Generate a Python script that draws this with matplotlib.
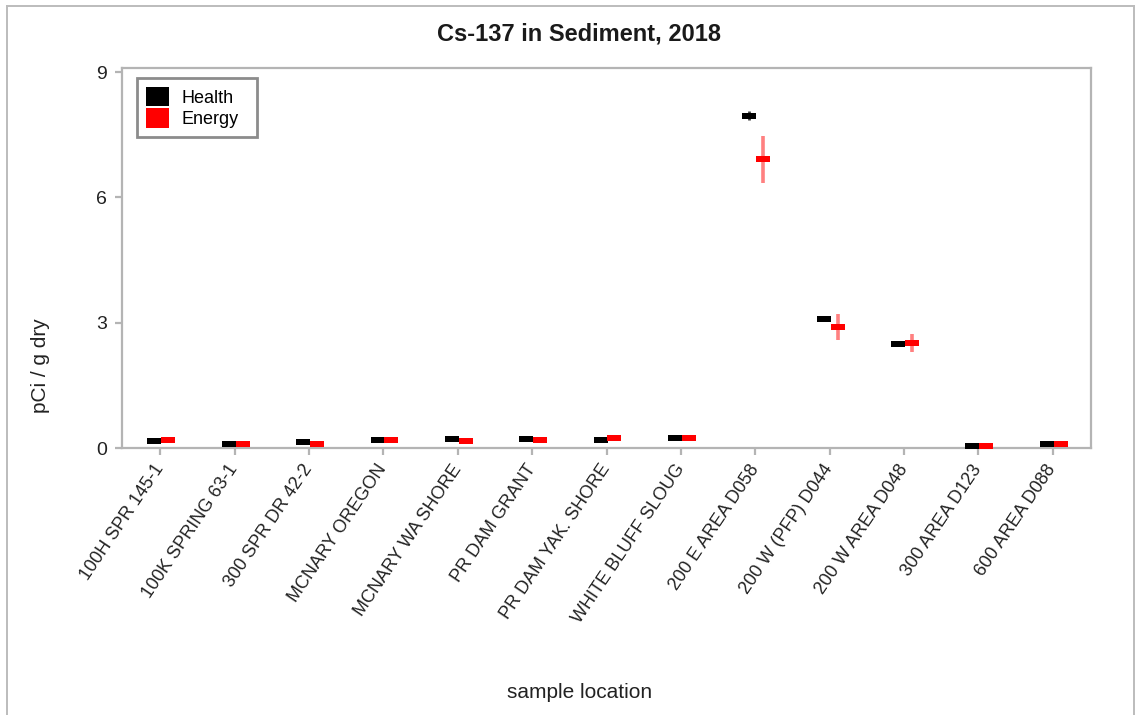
import matplotlib
matplotlib.use("Agg")
import matplotlib.pyplot as plt
from matplotlib.patches import Patch
from matplotlib.lines import Line2D
import numpy as np

plt.rcParams['font.family'] = ['Liberation Sans', 'DejaVu Sans']

locations = ["100H SPR 145-1", "100K SPRING 63-1", "300 SPR DR 42-2", "MCNARY OREGON",
             "MCNARY WA SHORE", "PR DAM GRANT", "PR DAM YAK. SHORE", "WHITE BLUFF SLOUG",
             "200 E AREA D058", "200 W (PFP) D044", "200 W AREA D048", "300 AREA D123",
             "600 AREA D088"]
health = [0.17, 0.10, 0.15, 0.20, 0.22, 0.22, 0.20, 0.25, 7.96, 3.10, 2.50, 0.05, 0.09]
health_err = [0.01, 0.01, 0.01, 0.01, 0.01, 0.01, 0.01, 0.01, 0.11, 0.02, 0.03, 0.01, 0.01]
energy = [0.20, 0.10, 0.10, 0.20, 0.17, 0.20, 0.25, 0.25, 6.91, 2.89, 2.52, 0.05, 0.09]
energy_err = [0.02, 0.02, 0.02, 0.02, 0.02, 0.02, 0.02, 0.02, 0.57, 0.31, 0.21, 0.01, 0.02]
yticks = [0, 3, 6, 9]

W, H = 1141, 715
fig = plt.figure(figsize=(W / 100, H / 100), dpi=100)
ax = fig.add_axes([122 / W, 1 - 448 / H, (1091 - 122) / W, (448 - 68) / H])

x = np.arange(len(locations))
rect = [(-1, -0.47), (1, -0.47), (1, 0.47), (-1, 0.47), (-1, -0.47)]

ax.errorbar(x - 0.08, health, yerr=health_err, fmt='none', ecolor='#404040',
            elinewidth=2, capsize=0, zorder=2)
ax.plot(x - 0.08, health, linestyle='none', marker=rect, markersize=10,
        color='black', markeredgewidth=0, zorder=3)
ax.errorbar(x + 0.107, energy, yerr=energy_err, fmt='none', ecolor='#ff8080',
            elinewidth=2.6, capsize=0, zorder=2)
ax.plot(x + 0.107, energy, linestyle='none', marker=rect, markersize=10,
        color='red', markeredgewidth=0, zorder=3)

ax.set_xlim(-0.516, 12.515)
ax.set_ylim(0, 9.1)
ax.set_yticks(yticks)
ax.set_yticklabels([str(v) for v in yticks], fontsize=14, color='#222222')
ax.set_xticks(x)
ax.set_xticklabels(locations, rotation=56, ha='right', va='center',
                   rotation_mode='anchor', fontsize=13, color='#111111')

for s in ax.spines.values():
    s.set_color('#b4b4b4')
    s.set_linewidth(1.6)
ax.tick_params(axis='both', colors='#b4b4b4', length=5, width=1.6, labelcolor='#222222')
ax.tick_params(axis='x', pad=8)
ax.tick_params(axis='y', pad=6)

fig.text(579 / W, 1 - 34 / H, "Cs-137 in Sediment, 2018", ha='center', va='center',
         fontsize=17, fontweight='bold', color='#1a1a1a')
fig.text(40 / W, 1 - 366 / H, "pCi / g dry", rotation=90, ha='center', va='center',
         fontsize=15, color='#222222')
fig.text(580 / W, 1 - 693 / H, "sample location", ha='center', va='center',
         fontsize=15, color='#222222')

handles = [Patch(facecolor='black', edgecolor='none', label='Health'),
           Patch(facecolor='red', edgecolor='none', label='Energy')]
leg = ax.legend(handles=handles, loc='upper left',
                bbox_to_anchor=(137 / W, 1 - 138 / H, 120 / W, 60 / H),
                bbox_transform=fig.transFigure, borderaxespad=0, fontsize=13,
                mode='expand', handlelength=1.25, handleheight=1.25, labelspacing=0.1,
                handletextpad=0.7, borderpad=0.5, fancybox=False, framealpha=1)
leg.get_frame().set_edgecolor('#8c8c8c')
leg.get_frame().set_linewidth(2)

# outer frame
for (x0, y0, x1, y1) in [(7, 6, 1134, 6), (7, 6, 7, 715), (1134, 6, 1134, 715)]:
    fig.add_artist(Line2D([x0 / W, x1 / W], [1 - y0 / H, 1 - y1 / H],
                          transform=fig.transFigure, color='#bcbcbc', linewidth=1.4))

fig.savefig("out.png", dpi=100)
